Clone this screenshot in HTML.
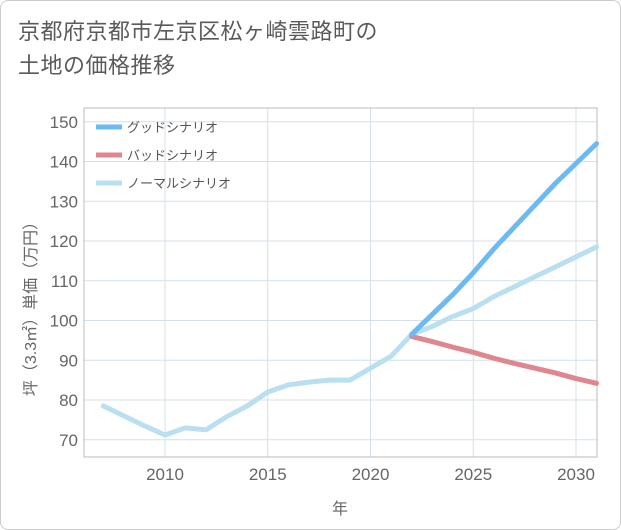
<!DOCTYPE html>
<html><head><meta charset="utf-8"><style>
body{margin:0;background:#fff;font-family:"Liberation Sans","Noto Sans CJK JP",sans-serif;}
#wrap{position:relative;width:619px;height:528px;border:1px solid #ccc;border-radius:8px;overflow:hidden;background:#fff}
#title{position:absolute;left:17px;top:14px;font-size:22px;line-height:34px;color:#5a5a5a;letter-spacing:0.5px}
</style></head><body>
<div id="wrap">
<div id="title">京都府京都市左京区松ヶ崎雲路町の<br>土地の価格推移</div>
<svg id="chart" width="621" height="530" style="position:absolute;left:-1px;top:-1px"></svg>
</div>
<script>
const years=[2007,2008,2009,2010,2011,2012,2013,2014,2015,2016,2017,2018,2019,2020,2021,2022,2023,2024,2025,2026,2027,2028,2029,2030,2031];
const normalVals=[78.5,76,73.5,71.2,73,72.5,75.8,78.5,82,83.8,84.5,85,85,88,91,96.5,98.5,101,103,106,108.5,111,113.5,116,118.5];
const scenarioYears=[2022,2023,2024,2025,2026,2027,2028,2029,2030,2031];
const goodVals=[96.5,101.5,106.5,112,118,123.5,129,134.5,139.5,144.5];
const badVals=[96,94.7,93.3,92,90.5,89.2,88,86.8,85.4,84.2];
const xTicks=[2010,2015,2020,2025,2030];
const yTicks=[70,80,90,100,110,120,130,140,150];
const legendLabels=["グッドシナリオ","バッドシナリオ","ノーマルシナリオ"];
const L=84,R=597,T=108,B=457;
const x=v=>165+(v-2010)*20.55;
const y=v=>400-(v-80)*3.975;
const svg=document.getElementById('chart');
const NS='http://www.w3.org/2000/svg';
function mk(t,a){const e=document.createElementNS(NS,t);for(const k in a)e.setAttribute(k,a[k]);svg.appendChild(e);return e;}
xTicks.forEach(v=>{const l=mk('line',{x1:x(v),x2:x(v),y1:T,y2:B,stroke:'#d5e1ea','stroke-width':1});


const t=mk('text',{x:x(v),y:480,'text-anchor':'middle','font-size':17,fill:'#666'});t.textContent=v;

});
yTicks.forEach(v=>{const l=mk('line',{x1:L,x2:R,y1:y(v),y2:y(v),stroke:'#d5e1ea','stroke-width':1});


const t=mk('text',{x:78,y:y(v)+6,'text-anchor':'end','font-size':17,fill:'#666'});t.textContent=v;

});
const fr=mk('rect',{x:L,y:T,width:R-L,height:B-T,fill:'none',stroke:'#bbb'});


function line(xs,vs,c,name){const p=mk('polyline',{points:xs.map((v,i)=>x(v)+','+y(vs[i])).join(' '),fill:'none',stroke:c,'stroke-width':5,'stroke-linejoin':'round','stroke-linecap':'round'});

}
line(years,normalVals,'#b9dff0','normal-line');
line(scenarioYears,badVals,'#e0868e','bad-line');
line(scenarioYears,goodVals,'#6cbaf0','good-line');
const lc=['#6cbaf0','#e0868e','#b9dff0'];
legendLabels.forEach((s,i)=>{const yy=127+i*28;
const l=mk('line',{x1:96,x2:122,y1:yy,y2:yy,stroke:lc[i],'stroke-width':5});


const t=mk('text',{x:127,y:yy+5,'font-size':13,fill:'#555'});t.textContent=s;

});
const xt=mk('text',{x:340,y:514,'text-anchor':'middle','font-size':16,fill:'#666'});xt.textContent='年';


const yt=mk('text',{x:0,y:0,'text-anchor':'middle','font-size':16,fill:'#666',transform:'translate(36,305) rotate(-90)'});yt.textContent='坪（3.3㎡）単価（万円）';


</script>
</body></html>
